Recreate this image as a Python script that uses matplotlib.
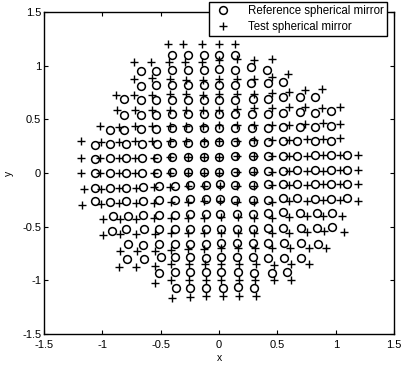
import matplotlib
matplotlib.use("Agg")
from matplotlib import pyplot as plt

plt.rcParams['font.family'] = ['Liberation Sans', 'DejaVu Sans']

# reference spherical mirror, one list per row (top to bottom)
ref_x = [
    [-0.40, -0.27, -0.13, 0.00, 0.14],
    [-0.67, -0.54, -0.40, -0.27, -0.13, 0.00, 0.14, 0.27, 0.41],
    [-0.67, -0.54, -0.40, -0.27, -0.13, 0.00, 0.14, 0.27, 0.42, 0.55],
    [-0.81, -0.67, -0.54, -0.40, -0.27, -0.13, 0.00, 0.14, 0.29, 0.42, 0.55, 0.69, 0.82],
    [-0.81, -0.67, -0.54, -0.40, -0.27, -0.13, 0.00, 0.14, 0.28, 0.42, 0.55, 0.69, 0.82, 0.96],
    [-0.93, -0.81, -0.67, -0.54, -0.40, -0.27, -0.13, 0.00, 0.14, 0.28, 0.42, 0.55, 0.69, 0.82, 0.96],
    [-1.06, -0.93, -0.80, -0.66, -0.53, -0.40, -0.27, -0.13, 0.00, 0.14, 0.29, 0.42, 0.55, 0.67, 0.82, 0.96],
    [-1.06, -0.93, -0.80, -0.66, -0.53, -0.40, -0.27, -0.13, 0.00, 0.14, 0.29, 0.42, 0.55, 0.67, 0.82, 0.96, 1.10],
    [-1.06, -0.93, -0.80, -0.66, -0.53, -0.40, -0.27, -0.13, 0.00, 0.14, 0.29, 0.42, 0.55, 0.67, 0.82, 0.96, 1.10],
    [-1.06, -0.93, -0.80, -0.65, -0.51, -0.38, -0.25, -0.11, 0.01, 0.14, 0.29, 0.42, 0.55, 0.67, 0.82, 0.96, 1.10],
    [-1.06, -0.93, -0.80, -0.65, -0.51, -0.38, -0.25, -0.11, 0.01, 0.14, 0.29, 0.42, 0.55, 0.67, 0.82, 0.96, 1.10],
    [-0.91, -0.78, -0.65, -0.51, -0.38, -0.25, -0.11, 0.01, 0.15, 0.29, 0.42, 0.55, 0.69, 0.84, 0.97],
    [-0.92, -0.80, -0.64, -0.51, -0.38, -0.25, -0.11, 0.02, 0.15, 0.29, 0.42, 0.55, 0.70, 0.84, 0.97],
    [-0.78, -0.65, -0.51, -0.38, -0.25, -0.11, 0.02, 0.15, 0.29, 0.42, 0.56, 0.70, 0.85],
    [-0.79, -0.64, -0.50, -0.38, -0.25, -0.11, 0.02, 0.15, 0.29, 0.42, 0.56, 0.70],
    [-0.51, -0.38, -0.25, -0.11, 0.02, 0.16, 0.30, 0.45, 0.58],
    [-0.37, -0.25, -0.11, 0.03, 0.16, 0.30],
]
ref_y = [
    [1.10, 1.10, 1.10, 1.10, 1.10],
    [0.955, 0.955, 0.964, 0.964, 0.964, 0.971, 0.964, 0.986, 0.964],
    [0.816, 0.819, 0.819, 0.819, 0.819, 0.819, 0.825, 0.84, 0.84, 0.85],
    [0.69, 0.68, 0.68, 0.68, 0.68, 0.68, 0.685, 0.685, 0.695, 0.695, 0.71, 0.71, 0.71],
    [0.54, 0.54, 0.54, 0.55, 0.55, 0.55, 0.55, 0.55, 0.555, 0.555, 0.56, 0.57, 0.56, 0.58],
    [0.40, 0.40, 0.41, 0.41, 0.42, 0.42, 0.42, 0.42, 0.42, 0.42, 0.42, 0.43, 0.43, 0.43, 0.44],
    [0.26, 0.27, 0.27, 0.27, 0.27, 0.28, 0.28, 0.28, 0.29, 0.29, 0.29, 0.29, 0.30, 0.30, 0.30, 0.30],
    [0.13, 0.14, 0.14, 0.14, 0.14, 0.15, 0.15, 0.15, 0.15, 0.16, 0.16, 0.16, 0.16, 0.16, 0.17, 0.17, 0.17],
    [0.00, 0.00, 0.00, 0.00, 0.00, 0.01, 0.01, 0.01, 0.01, 0.01, 0.02, 0.02, 0.02, 0.025, 0.025, 0.03, 0.03],
    [-0.14, -0.14, -0.14, -0.13, -0.12, -0.12, -0.11, -0.11, -0.105, -0.11, -0.11, -0.105, -0.10, -0.10, -0.10, -0.10, -0.10],
    [-0.26, -0.27, -0.26, -0.26, -0.25, -0.25, -0.245, -0.24, -0.24, -0.25, -0.25, -0.25, -0.235, -0.235, -0.245, -0.245, -0.23],
    [-0.40, -0.40, -0.39, -0.39, -0.39, -0.385, -0.385, -0.385, -0.385, -0.385, -0.375, -0.36, -0.37, -0.37, -0.375],
    [-0.54, -0.52, -0.52, -0.52, -0.52, -0.52, -0.52, -0.52, -0.52, -0.52, -0.51, -0.51, -0.51, -0.51, -0.50],
    [-0.66, -0.67, -0.66, -0.66, -0.66, -0.66, -0.65, -0.65, -0.65, -0.65, -0.65, -0.65, -0.66],
    [-0.80, -0.80, -0.78, -0.78, -0.78, -0.79, -0.78, -0.78, -0.78, -0.79, -0.79, -0.79],
    [-0.93, -0.92, -0.92, -0.92, -0.92, -0.92, -0.93, -0.93, -0.92],
    [-1.07, -1.07, -1.07, -1.07, -1.06, -1.07],
]

# test spherical mirror, same rows
test_x = [
    [-0.44, -0.31, -0.15, 0.00, 0.14],
    [-0.73, -0.58, -0.43, -0.29, -0.15, 0.00, 0.15, 0.30, 0.45],
    [-0.73, -0.57, -0.42, -0.28, -0.14, 0.00, 0.15, 0.30, 0.45, 0.59],
    [-0.88, -0.73, -0.57, -0.42, -0.28, -0.14, 0.00, 0.15, 0.30, 0.45, 0.60, 0.74, 0.88],
    [-0.87, -0.72, -0.57, -0.42, -0.28, -0.14, 0.00, 0.15, 0.30, 0.45, 0.60, 0.74, 0.88, 1.04],
    [-1.02, -0.86, -0.72, -0.57, -0.42, -0.28, -0.14, 0.00, 0.15, 0.30, 0.45, 0.60, 0.74, 0.89, 1.04],
    [-1.18, -1.01, -0.86, -0.72, -0.57, -0.42, -0.28, -0.13, 0.00, 0.15, 0.30, 0.45, 0.60, 0.75, 0.89, 1.04],
    [-1.18, -1.02, -0.86, -0.72, -0.56, -0.42, -0.27, -0.13, 0.00, 0.15, 0.30, 0.45, 0.60, 0.75, 0.89, 1.04, 1.19],
    [-1.18, -1.02, -0.86, -0.72, -0.56, -0.42, -0.27, -0.13, 0.00, 0.15, 0.30, 0.45, 0.60, 0.75, 0.89, 1.04, 1.19],
    [-1.16, -1.01, -0.86, -0.71, -0.56, -0.42, -0.27, -0.13, 0.01, 0.15, 0.30, 0.45, 0.60, 0.75, 0.89, 1.04, 1.19],
    [-1.17, -1.01, -0.86, -0.71, -0.56, -0.41, -0.27, -0.13, 0.01, 0.15, 0.30, 0.45, 0.60, 0.75, 0.89, 1.04, 1.19],
    [-0.99, -0.85, -0.71, -0.56, -0.41, -0.27, -0.13, 0.02, 0.16, 0.30, 0.45, 0.60, 0.75, 0.89, 1.05],
    [-0.99, -0.85, -0.71, -0.55, -0.41, -0.27, -0.13, 0.02, 0.16, 0.30, 0.45, 0.60, 0.75, 0.90, 1.07],
    [-0.85, -0.70, -0.55, -0.41, -0.27, -0.13, 0.02, 0.16, 0.31, 0.45, 0.61, 0.77, 0.92],
    [-0.86, -0.71, -0.55, -0.41, -0.26, -0.12, 0.02, 0.17, 0.32, 0.47, 0.62, 0.77],
    [-0.55, -0.41, -0.26, -0.11, 0.02, 0.17, 0.31, 0.47, 0.62],
    [-0.40, -0.25, -0.11, 0.03, 0.17, 0.32],
]
test_y = [
    [1.20, 1.20, 1.20, 1.20, 1.20],
    [1.04, 1.04, 1.04, 1.04, 1.04, 1.05, 1.06, 1.05, 1.06],
    [0.88, 0.89, 0.88, 0.87, 0.87, 0.88, 0.88, 0.88, 0.90, 0.92],
    [0.73, 0.73, 0.73, 0.74, 0.74, 0.73, 0.74, 0.74, 0.74, 0.75, 0.76, 0.77, 0.78],
    [0.59, 0.59, 0.59, 0.59, 0.59, 0.59, 0.59, 0.60, 0.61, 0.61, 0.62, 0.62, 0.61, 0.62],
    [0.44, 0.43, 0.44, 0.44, 0.44, 0.44, 0.44, 0.45, 0.45, 0.45, 0.45, 0.45, 0.46, 0.47, 0.46],
    [0.30, 0.29, 0.29, 0.30, 0.30, 0.30, 0.30, 0.30, 0.30, 0.30, 0.31, 0.31, 0.31, 0.32, 0.32, 0.33],
    [0.14, 0.14, 0.14, 0.14, 0.14, 0.15, 0.15, 0.15, 0.15, 0.16, 0.16, 0.16, 0.16, 0.16, 0.17, 0.17, 0.17],
    [0.00, 0.00, 0.00, 0.00, 0.00, 0.00, 0.00, 0.00, 0.00, 0.01, 0.01, 0.01, 0.02, 0.02, 0.02, 0.025, 0.03],
    [-0.15, -0.15, -0.14, -0.14, -0.13, -0.13, -0.12, -0.12, -0.12, -0.12, -0.12, -0.115, -0.115, -0.11, -0.105, -0.10, -0.10],
    [-0.30, -0.285, -0.28, -0.28, -0.275, -0.27, -0.27, -0.26, -0.26, -0.27, -0.27, -0.27, -0.26, -0.255, -0.25, -0.25, -0.255],
    [-0.43, -0.43, -0.425, -0.42, -0.415, -0.415, -0.415, -0.41, -0.41, -0.415, -0.415, -0.41, -0.40, -0.395, -0.40],
    [-0.58, -0.57, -0.57, -0.565, -0.555, -0.555, -0.555, -0.555, -0.555, -0.555, -0.555, -0.555, -0.55, -0.54, -0.545],
    [-0.73, -0.73, -0.73, -0.72, -0.71, -0.71, -0.70, -0.70, -0.70, -0.70, -0.70, -0.695, -0.695],
    [-0.87, -0.87, -0.865, -0.85, -0.85, -0.85, -0.85, -0.85, -0.85, -0.855, -0.85, -0.845],
    [-1.02, -1.00, -1.00, -1.00, -1.00, -1.00, -1.00, -1.00, -1.00],
    [-1.16, -1.15, -1.14, -1.14, -1.14, -1.14],
]

ticks = [-1.5, -1, -0.5, 0, 0.5, 1, 1.5]
tick_labels = ["-1.5", "-1", "-0.5", "0", "0.5", "1", "1.5"]


def flat(rows):
    return [v for row in rows for v in row]


fig = plt.figure(figsize=(4.03, 3.68), dpi=100)
ax = fig.add_axes([0.109, 0.092, 0.869, 0.875])

ax.plot(flat(ref_x), flat(ref_y), 'o', mfc='none', mec='black', ms=5.6, mew=1.1,
        linestyle='none', label='Reference spherical mirror')
ax.plot(flat(test_x), flat(test_y), '+', color='black', ms=5.8, mew=1.0,
        linestyle='none', label='Test spherical mirror')

ax.set_xlim(-1.5, 1.5)
ax.set_ylim(-1.5, 1.5)
ax.set_xticks(ticks)
ax.set_xticklabels(tick_labels)
ax.set_yticks(ticks)
ax.set_yticklabels(tick_labels)
ax.tick_params(direction='in', length=3, width=0.8, top=True, right=True,
               labelsize=8)
ax.tick_params(axis='x', pad=4.5)
ax.tick_params(axis='y', pad=2)
for s in ax.spines.values():
    s.set_linewidth(1.0)
ax.set_xlabel('x', fontsize=7.5, labelpad=2)
ax.set_ylabel('y', fontsize=7.5, labelpad=6)

leg = ax.legend(loc='upper right', bbox_to_anchor=(0.961, 0.995),
                bbox_transform=fig.transFigure, fontsize=8.3, frameon=True,
                fancybox=False, framealpha=1, edgecolor='black',
                borderpad=0.3, labelspacing=0.3, handletextpad=1.3,
                handlelength=1.8, borderaxespad=0)
leg.get_frame().set_linewidth(1.0)

fig.savefig('out.png', dpi=100)
